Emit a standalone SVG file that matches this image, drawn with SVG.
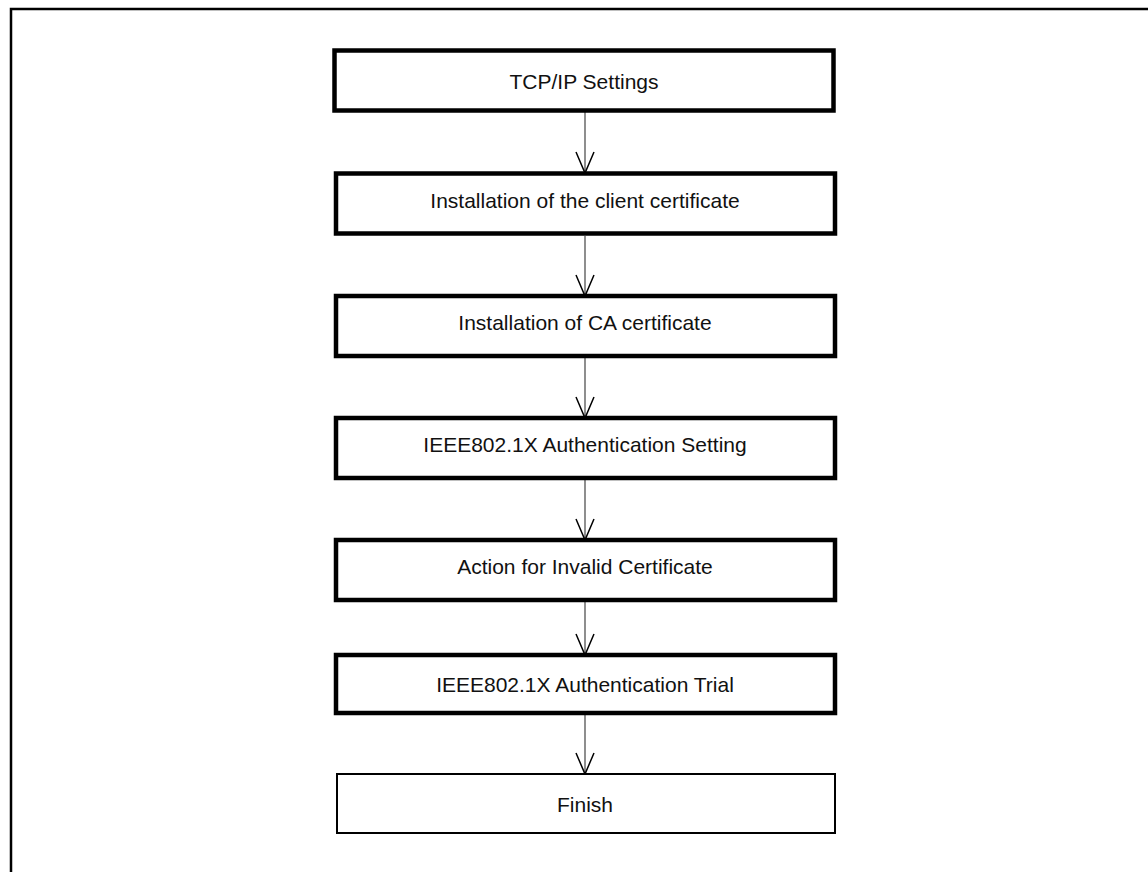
<svg xmlns="http://www.w3.org/2000/svg" width="1148" height="872" viewBox="0 0 1148 872">
<style>
.frame{fill:none;stroke:#000;stroke-width:2.5}
.box{fill:#fff;stroke:#000;stroke-width:4.5}
.end{fill:#fff;stroke:#000;stroke-width:2}
.lbl{font-family:"Liberation Sans",Arial,Helvetica,sans-serif;font-size:21px;fill:#111;text-anchor:middle;dominant-baseline:central}
.conn{fill:none;stroke:#444;stroke-width:1.2}
.head{fill:none;stroke:#000;stroke-width:1.5}
</style>
<rect width="1148" height="872" fill="#fff"/>
<path class="frame" d="M11,872 V9 H1148"/>
<g id="connectors">
<line class="conn" x1="585" y1="112" x2="585" y2="173"/><polyline class="head" points="576,152 585,173 594,152"/>
<line class="conn" x1="585" y1="236" x2="585" y2="296"/><polyline class="head" points="576,275 585,296 594,275"/>
<line class="conn" x1="585" y1="358" x2="585" y2="418"/><polyline class="head" points="576,397 585,418 594,397"/>
<line class="conn" x1="585" y1="480" x2="585" y2="540"/><polyline class="head" points="576,519 585,540 594,519"/>
<line class="conn" x1="585" y1="602" x2="585" y2="655"/><polyline class="head" points="576,634 585,655 594,634"/>
<line class="conn" x1="585" y1="715" x2="585" y2="774"/><polyline class="head" points="576,753 585,774 594,753"/>
</g>
<g id="n1"><rect class="box" x="334.5" y="50.5" width="499" height="60"/><text class="lbl" x="584" y="81">TCP/IP Settings</text></g>
<g id="n2"><rect class="box" x="336" y="173.5" width="499" height="60"/><text class="lbl" x="585" y="200">Installation of the client certificate</text></g>
<g id="n3"><rect class="box" x="336" y="296" width="499" height="60"/><text class="lbl" x="585" y="322">Installation of CA certificate</text></g>
<g id="n4"><rect class="box" x="336" y="418" width="499" height="60"/><text class="lbl" x="585" y="444">IEEE802.1X Authentication Setting</text></g>
<g id="n5"><rect class="box" x="336" y="540" width="499" height="60"/><text class="lbl" x="585" y="566">Action for Invalid Certificate</text></g>
<g id="n6"><rect class="box" x="336" y="655" width="499" height="58"/><text class="lbl" x="585" y="684">IEEE802.1X Authentication Trial</text></g>
<g id="n7"><rect class="end" x="337" y="774" width="498" height="59"/><text class="lbl" x="585" y="804">Finish</text></g>
</svg>
